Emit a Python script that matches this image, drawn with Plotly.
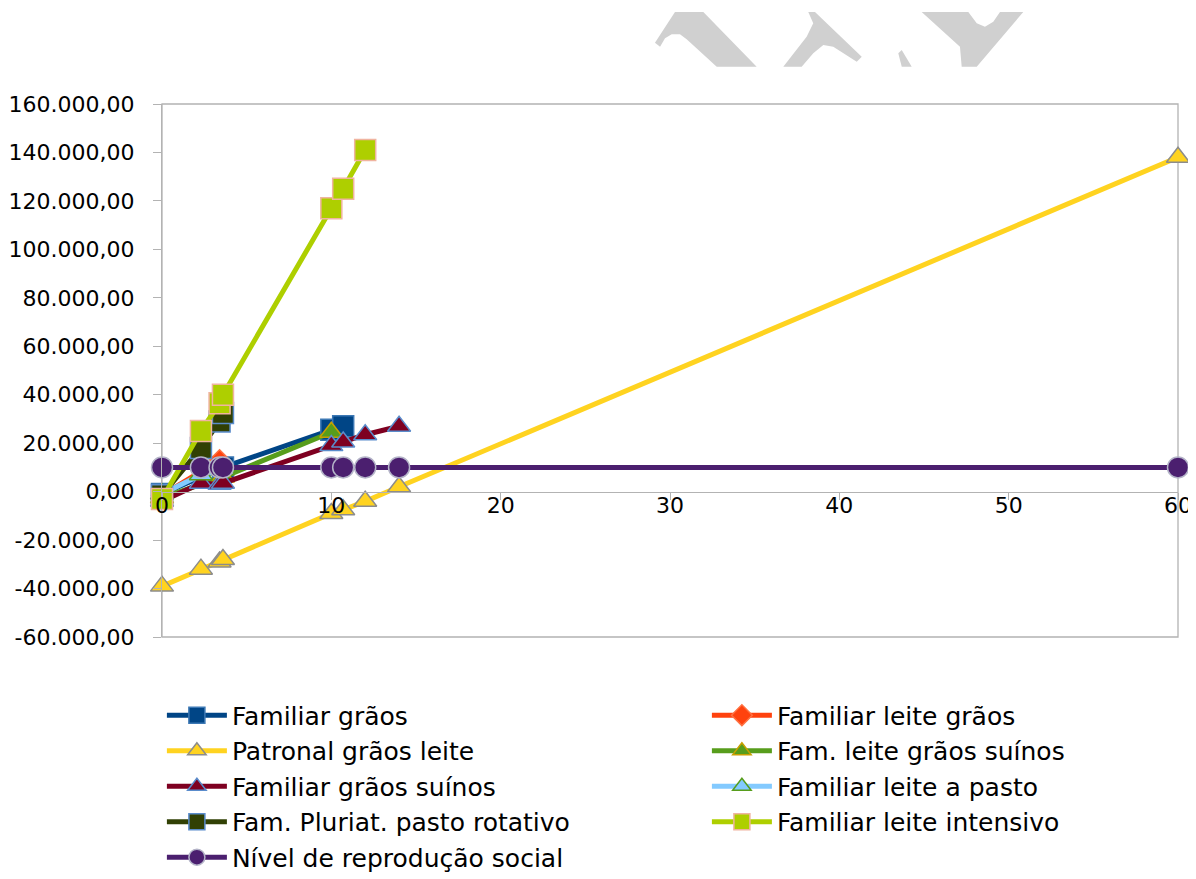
import plotly.graph_objects as go

# ---------------- data ----------------
series_names = [
    "Familiar grãos",
    "Familiar leite grãos",
    "Patronal grãos leite",
    "Fam. leite grãos suínos",
    "Familiar grãos suínos",
    "Familiar leite a pasto",
    "Fam. Pluriat. pasto rotativo",
    "Familiar leite intensivo",
    "Nível de reprodução social",
]

x_familiar_graos = [0, 3.6, 10, 10.7]
y_familiar_graos = [-1000, 10000, 25500, 27000]

x_familiar_leite_graos = [0, 3.4]
y_familiar_leite_graos = [-1500, 13000]

x_patronal = [0, 2.3, 3.4, 3.6, 10, 10.7, 12, 14, 60]
y_patronal = [-39000, -32000, -29000, -28000, -9000, -7500, -4000, 2000, 138000]

x_fam_leite_graos_suinos = [0, 3.6, 10]
y_fam_leite_graos_suinos = [-2500, 6000, 24500]

x_familiar_graos_suinos = [0, 2.3, 3.4, 3.6, 10, 10.7, 12, 14]
y_familiar_graos_suinos = [-4000, 3500, 3000, 3500, 19000, 20500, 23500, 27000]

x_familiar_leite_pasto = [0, 2.3, 3.6]
y_familiar_leite_pasto = [-1000, 7000, 9000]

x_pluriat = [0, 2.3, 3.4, 3.6]
y_pluriat = [-1500, 18000, 29000, 32500]

x_leite_intensivo = [0, 2.3, 3.4, 3.6, 10, 10.7, 12]
y_leite_intensivo = [-3000, 25000, 36500, 40000, 117000, 125000, 141000]

x_reproducao = [0, 2.3, 3.4, 3.6, 10, 10.7, 12, 14, 60]
y_reproducao = [10000, 10000, 10000, 10000, 10000, 10000, 10000, 10000, 10000]

y_tick_values = [-60000, -40000, -20000, 0, 20000, 40000, 60000, 80000,
                 100000, 120000, 140000, 160000]
y_tick_labels = ["-60.000,00", "-40.000,00", "-20.000,00", "0,00", "20.000,00",
                 "40.000,00", "60.000,00", "80.000,00", "100.000,00",
                 "120.000,00", "140.000,00", "160.000,00"]
x_tick_values = [0, 10, 20, 30, 40, 50, 60]
x_tick_labels = ["0", "10", "20", "30", "40", "50", "60"]

# ---------------- styles ----------------
xs = [x_familiar_graos, x_familiar_leite_graos, x_patronal, x_fam_leite_graos_suinos,
      x_familiar_graos_suinos, x_familiar_leite_pasto, x_pluriat, x_leite_intensivo,
      x_reproducao]
ys = [y_familiar_graos, y_familiar_leite_graos, y_patronal, y_fam_leite_graos_suinos,
      y_familiar_graos_suinos, y_familiar_leite_pasto, y_pluriat, y_leite_intensivo,
      y_reproducao]
line_colors = ["#004586", "#ff420e", "#ffd320", "#579d1c", "#7e0021",
               "#83caff", "#314004", "#aecf00", "#4b1f6f"]
symbols = ["square", "diamond", "triangle-up", "triangle-up", "triangle-up",
           "triangle-up", "square", "square", "circle"]
sizes = [21, 16, 20, 20, 20, 20, 21, 21, 21]
border_colors = ["#3c78b4", "#ff7040", "#8c8c8c", "#c8a000", "#5a8ccc",
                 "#579d1c", "#5a8ccc", "#f0b4a0", "#b4b4c8"]

FONT = "DejaVu Sans, sans-serif"
AX = "#b3b3b3"

fig = go.Figure()
for i in range(len(series_names)):
    fig.add_trace(go.Scatter(
        x=xs[i], y=ys[i], name=series_names[i], mode="lines+markers",
        line=dict(color=line_colors[i], width=5), cliponaxis=False,
        marker=dict(symbol=symbols[i], size=sizes[i], color=line_colors[i],
                    line=dict(color=border_colors[i], width=1.5)),
    ))

# figure geometry (the page body adds an 8 px offset)
OFF = 8
W, H = 1196 - OFF, 879 - OFF
L, T, R = 162 - OFF, 104 - OFF, 18
pw, ph = W - L - R, 533
B = H - T - ph


def px2paper(px, py):
    return (px - OFF - L) / pw, (H - B - (py - OFF)) / ph


def path(points):
    s = ""
    for k, (px, py) in enumerate(points):
        X, Y = px2paper(px, py)
        s += ("M" if k == 0 else "L") + f"{X:.4f},{Y:.4f} "
    return s + "Z"


wm = [
    [(655, 42.7), (675, 12), (703.3, 12), (756.7, 66.7), (716.7, 66.7), (686.7, 39.3),
     (680, 34.3), (671.7, 34.3), (665, 38.3), (660, 46.7)],
    [(808.3, 12), (815, 12), (861.7, 56.7), (856.7, 61.7), (833.3, 46.7), (823.3, 45),
     (813.3, 53.3), (801.7, 66.7), (783.3, 66.7), (806.7, 36.7), (813.3, 23.3)],
    [(921.7, 12), (968.3, 12), (976.7, 23.3), (985, 26.7), (993.3, 21.7), (1000, 12),
     (1023.3, 12), (976.7, 66.7), (961.7, 66.7), (960, 46.7)],
    [(898.3, 53.3), (901.7, 50), (911.7, 66.7), (901.7, 66.7)],
]
shapes = [dict(type="path", xref="paper", yref="paper", path=path(p),
               fillcolor="#d0d0d0", line=dict(width=0), layer="below") for p in wm]
shapes.append(dict(type="rect", xref="paper", yref="paper", x0=0, x1=1, y0=0, y1=1,
                   line=dict(color=AX, width=1.3), layer="below"))

fig.update_layout(
    width=W, height=H,
    margin=dict(l=L, r=R, t=T, b=B, pad=0, autoexpand=False),
    paper_bgcolor="white", plot_bgcolor="white",
    font=dict(family=FONT, size=22, color="black"),
    showlegend=True,
    shapes=shapes,
    xaxis=dict(range=[0, 60], tickvals=x_tick_values, ticktext=x_tick_labels,
               anchor="free", position=60000 / 220000,
               showline=True, linecolor=AX, linewidth=1.3,
               ticks="outside", ticklen=7, tickcolor=AX,
               showgrid=False, zeroline=False, ticklabelstandoff=-13,
               tickfont=dict(family=FONT, size=22)),
    yaxis=dict(range=[-60000, 160000], tickvals=y_tick_values, ticktext=y_tick_labels,
               showline=True, linecolor=AX, linewidth=1.3,
               ticks="outside", ticklen=8, tickcolor=AX,
               showgrid=False, zeroline=False, ticklabelstandoff=14,
               tickfont=dict(family=FONT, size=22)),
    legend=dict(orientation="h", x=-0.0001, xanchor="left", y=-0.104, yanchor="top",
                entrywidthmode="pixels", entrywidth=470,
                font=dict(family=FONT, size=25), bgcolor="rgba(0,0,0,0)",
                itemwidth=60, traceorder="normal"),
)

fig.write_html("out.html")
